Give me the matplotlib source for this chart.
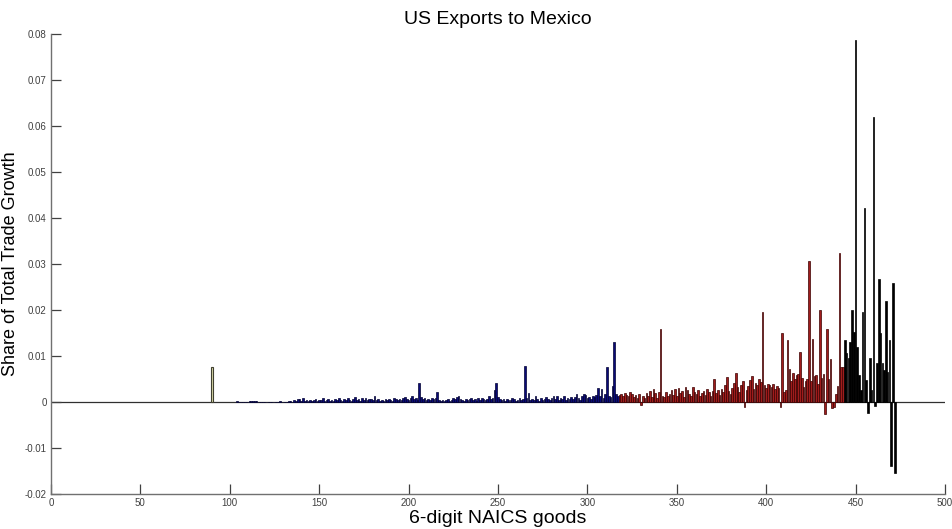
import numpy as np
import matplotlib
matplotlib.use("Agg")
import matplotlib.pyplot as plt

plt.rcParams['font.family'] = ['Liberation Sans', 'DejaVu Sans']

# single odd bar at the far left
olive_x = [90]
olive_vals = [0.0076]

# blue bars, goods 104..317
blue_start = 104
blue_vals = [
    0.0003, 0, 0, 0, 0, 0, 0, 0.0002, 0.0002, 0.0002,
    0.0002, 0.0002, 0, 0, 0, 0, 0, 0, 0, 0,
    0, 0, 0, 0, 0.0003, 0, 0, 0, 0, 0.0002,
    0.0003, 0.0001, 0.0004, 0.0002, 0.0006, 0.0007, 0.0003, 0.0009, 0.0002, 0.0004,
    0.0003, 0.0005, 0.0002, 0.0004, 0.0006, 0.0003, 0.0005, 0.0004, 0.0008, 0.0003,
    0.0004, 0.0006, 0.0002, 0.0005, 0.0003, 0.0007, 0.0004, 0.0009, 0.0005, 0.0003,
    0.0006, 0.0004, 0.0008, 0.0005, 0.0003, 0.0007, 0.0010, 0.0004, 0.0006, 0.0003,
    0.0008, 0.0005, 0.0009, 0.0004, 0.0006, 0.0007, 0.0005, 0.0013, 0.0004, 0.0006,
    0.0003, 0.0005, 0.0002, 0.0006, 0.0004, 0.0007, 0.0005, 0.0003, 0.0008, 0.0006,
    0.0004, 0.0007, 0.0005, 0.0009, 0.0010, 0.0006, 0.0004, 0.0008, 0.0012, 0.0007,
    0.0009, 0.0005, 0.0042, 0.0011, 0.0006, 0.0008, 0.0004, 0.0007, 0.0005, 0.0009,
    0.0006, 0.0008, 0.0022, 0.0004, 0.0003, 0.0005, 0.0002, 0.0004, 0.0006, 0.0003,
    0.0005, 0.0008, 0.0006, 0.0010, 0.0014, 0.0007, 0.0005, 0.0003, 0.0006, 0.0004,
    0.0007, 0.0009, 0.0005, 0.0006, 0.0003, 0.0008, 0.0005, 0.0009, 0.0006, 0.0004,
    0.0007, 0.0012, 0.0006, 0.0009, 0.0025, 0.0041, 0.0010, 0.0006, 0.0004, 0.0007,
    0.0003, 0.0006, 0.0005, 0.0004, 0.0009, 0.0006, 0.0003, 0.0005, 0.0008, 0.0004,
    0.0006, 0.0078, 0.0009, 0.0020, 0.0005, 0.0007, 0.0004, 0.0013, 0.0006, 0.0003,
    0.0008, 0.0005, 0.0007, 0.0010, 0.0006, 0.0004, 0.0009, 0.0013, 0.0007, 0.0013,
    0.0005, 0.0008, 0.0006, 0.0012, 0.0004, 0.0009, 0.0007, 0.0011, 0.0006, 0.0010,
    0.0017, 0.0008, 0.0005, 0.0012, 0.0017, 0.0016, 0.0009, 0.0011, 0.0007, 0.0013,
    0.0010, 0.0015, 0.0030, 0.0012, 0.0028, 0.0009, 0.0018, 0.0077, 0.0014, 0.0010,
    0.0035, 0.0131, 0.0017, 0.0014,
]

# red bars, goods 318..443
red_start = 318
red_vals = [
    0.0015, 0.0018, 0.0013, 0.0020, 0.0016, 0.0012, 0.0022, 0.0018, 0.0011, 0.0015,
    0.0008, 0.0017, -0.0007, 0.0012, 0.0009, 0.0019, 0.0014, 0.0024, 0.0011, 0.0029,
    0.0020, 0.0009, 0.0021, 0.0158, 0.0014, 0.0010, 0.0022, 0.0013, 0.0017, 0.0026,
    0.0015, 0.0028, 0.0012, 0.0030, 0.0019, 0.0024, 0.0011, 0.0033, 0.0027, 0.0018,
    0.0014, 0.0033, 0.0021, 0.0017, 0.0025, 0.0012, 0.0019, 0.0023, 0.0016, 0.0028,
    0.0021, 0.0014, 0.0024, 0.0051, 0.0019, 0.0026, 0.0015, 0.0029, 0.0022, 0.0036,
    0.0055, 0.0024, 0.0018, 0.0031, 0.0041, 0.0064, 0.0033, 0.0022, 0.0038, 0.0045,
    -0.0010, 0.0027, 0.0034, 0.0048, 0.0057, 0.0029, 0.0041, 0.0036, 0.0051, 0.0043,
    0.0196, 0.0038, 0.0031, 0.0040, 0.0036, 0.0033, 0.0040, 0.0028, 0.0035, 0.0030,
    -0.0010, 0.0149, 0.0022, 0.0027, 0.0135, 0.0071, 0.0046, 0.0062, 0.0051, 0.0058,
    0.0060, 0.0109, 0.0052, 0.0033, 0.0046, 0.0049, 0.0307, 0.0046, 0.0137, 0.0057,
    0.0058, 0.0040, 0.0200, 0.0052, 0.0060, -0.0026, 0.0158, 0.0049, 0.0093, -0.0014,
    -0.0010, 0.0017, 0.0035, 0.0324, 0.0077, 0.0077,
]

# black bars, goods 444..472
black_start = 444
black_vals = [
    0.0135, 0.0107, 0.0095, 0.0130, 0.0200, 0.0153, 0.0787, 0.0120, 0.0059, 0.0026,
    0.0196, 0.0421, 0.0048, -0.0023, 0.0095, 0.0026, 0.0620, -0.0009, 0.0084, 0.0267,
    0.0150, 0.0084, 0.0070, 0.0220, 0.0066, 0.0135, -0.0139, 0.0259, -0.0154,
]

fig = plt.figure(figsize=(9.53, 5.29), dpi=100)
ax = fig.add_axes([0.0535, 0.0662, 0.938, 0.8695])

bw = 0.9
ax.bar(olive_x, olive_vals, width=1.2, color='#d8d8a8', edgecolor='#404030', linewidth=0.8)
ax.bar(np.arange(blue_start, blue_start + len(blue_vals)), blue_vals, width=bw,
       color='#0a0a78', edgecolor='#000030', linewidth=0.5)
ax.bar(np.arange(red_start, red_start + len(red_vals)), red_vals, width=bw,
       color='#a01c1c', edgecolor='#3a0000', linewidth=0.5)
ax.bar(np.arange(black_start, black_start + len(black_vals)), black_vals, width=bw,
       color='black', edgecolor='black', linewidth=0.5)

ax.axhline(0, color='#303030', linewidth=0.9, zorder=0)

ax.set_xlim(0, 500)
ax.set_ylim(-0.02, 0.08)
ax.set_xticks(np.arange(0, 501, 50))
ax.set_yticks(np.arange(-0.02, 0.081, 0.01))
ax.set_yticklabels(['-0.02', '-0.01', '0', '0.01', '0.02', '0.03', '0.04',
                    '0.05', '0.06', '0.07', '0.08'])

for s in ['top', 'right']:
    ax.spines[s].set_visible(False)
for s in ['left', 'bottom']:
    ax.spines[s].set_color('#707070')
    ax.spines[s].set_linewidth(1.0)

ax.tick_params(direction='in', length=7, width=0.9, color='#404040',
               labelsize=7, labelcolor='#404040', pad=3)

ax.set_title('US Exports to Mexico', fontsize=14, pad=7)
ax.set_xlabel('6-digit NAICS goods', fontsize=14, labelpad=1)
ax.set_ylabel('Share of Total Trade Growth', fontsize=13)
ax.yaxis.set_label_coords(-0.036, 0.5)

fig.savefig('out.png', dpi=100)
